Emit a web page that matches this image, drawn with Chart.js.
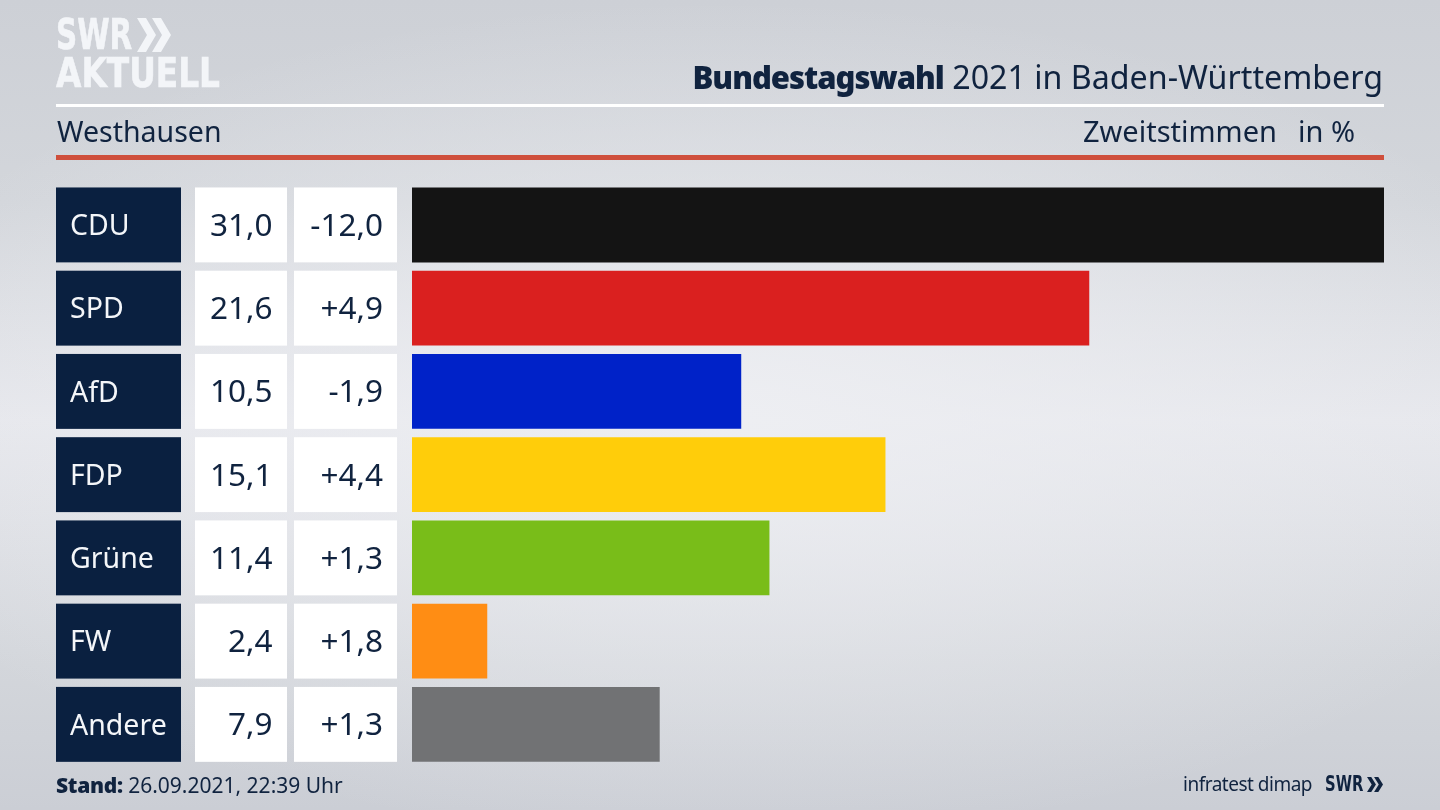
<!DOCTYPE html>
<html lang="de">
<head>
<meta charset="utf-8">
<title>Bundestagswahl 2021 in Baden-Württemberg</title>
<script src="https://cdn.jsdelivr.net/npm/chart.js@4"></script>
<style>
  html, body { margin:0; padding:0; width:1440px; height:810px; overflow:hidden; }
  body {
    position:relative;
    font-family:"Noto Sans", sans-serif;
    color:#10233f;
    background:
      radial-gradient(ellipse 900px 420px at 50% 52%, rgba(238,239,243,.9), rgba(238,239,243,0) 100%),
      linear-gradient(180deg, #cdd0d6 0%, #d3d6db 25%, #e6e7ec 52%, #d3d6db 82%, #cbced5 100%);
  }
  canvas { position:absolute; left:0; top:0; }
  .t { position:absolute; white-space:nowrap; line-height:1; }
  .rule { position:absolute; left:56px; width:1328px; }
  .logo { position:absolute; color:#f3f5f8; font-family:"DejaVu Sans", sans-serif; font-weight:700; white-space:nowrap; line-height:1; transform-origin:left top; -webkit-text-stroke:.6px #f3f5f8; }
</style>
</head>
<body>
<canvas id="chart" width="1440" height="810"></canvas>

<div class="logo" style="left:56px;top:14px;font-size:42px;transform:scaleX(.7);">SWR</div>
<svg style="position:absolute;left:137px;top:18px" width="34" height="34" viewBox="0 0 34 34">
  <path d="M0 0 L9 0 L19 17 L9 34 L0 34 L10 17 Z M15 0 L24 0 L34 17 L24 34 L15 34 L25 17 Z" fill="#f3f5f8"/>
</svg>
<div class="logo" style="left:56px;top:53px;font-size:40px;transform:scaleX(.82);">AKTUELL</div>

<div class="t" id="title" style="right:57px;top:61px;font-size:32.2px;"><b style="font-weight:900;font-size:31px;letter-spacing:-1px">Bundestagswahl</b> 2021 in Baden-Württemberg</div>
<div class="rule" style="top:104px;height:3px;background:#fff"></div>
<div class="t" id="place" style="left:57px;top:117px;font-size:28.5px;">Westhausen</div>
<div class="t" id="kind" style="right:163px;top:116px;font-size:29px;">Zweitstimmen</div>
<div class="t" id="unit" style="right:85px;top:116px;font-size:29px;">in %</div>
<div class="rule" style="top:155px;height:5px;background:#cf4f3c"></div>

<div class="t" style="left:56px;top:775px;font-size:21px;"><b style="font-weight:900;letter-spacing:-0.3px">Stand:</b> 26.09.2021, 22:39 Uhr</div>
<div class="t" style="right:128px;top:775px;font-size:19px;letter-spacing:-0.5px;">infratest dimap</div>
<div class="t" style="left:1325px;top:774px;font-size:20.5px;font-family:'DejaVu Sans',sans-serif;font-weight:700;transform-origin:left top;transform:scaleX(.72);">SWR</div>
<svg style="position:absolute;left:1367px;top:777px" width="16" height="15" viewBox="0 0 34 34" preserveAspectRatio="none">
  <path d="M0 0 L9 0 L19 17 L9 34 L0 34 L10 17 Z M15 0 L24 0 L34 17 L24 34 L15 34 L25 17 Z" fill="#10233f"/>
</svg>

<script>
const parties = ["CDU", "SPD", "AfD", "FDP", "Grüne", "FW", "Andere"];
const shares = [31.0, 21.6, 10.5, 15.1, 11.4, 2.4, 7.9];
const changes = [-12.0, 4.9, -1.9, 4.4, 1.3, 1.8, 1.3];
const barColors = ["#141414", "#da201f", "#0022c8", "#ffcd0a", "#79bd19", "#ff8d14", "#717274"];

function fmt(v){ return v.toFixed(1).replace(".", ","); }
function fmtChange(v){ return (v > 0 ? "+" : "") + fmt(v); }

// table cells left of the bars, rows follow the y scale
const tableCells = {
  id: "tableCells",
  afterDatasetsDraw(chart){
    const { ctx, scales } = chart;
    const bars = chart.getDatasetMeta(0).data;
    ctx.save();
    ctx.textBaseline = "middle";
    parties.forEach((p, i) => {
      const y = scales.y.getPixelForValue(i);
      const h = bars[i].height;
      const top = y - h / 2;
      ctx.fillStyle = "#0a2040";
      ctx.fillRect(56, top, 125, h);
      ctx.fillStyle = "#ffffff";
      ctx.fillRect(195, top, 92, h);
      ctx.fillRect(294, top, 103, h);

      ctx.font = '28.5px "Noto Sans", sans-serif';
      ctx.textAlign = "left";
      ctx.fillStyle = "#f4f6f9";
      ctx.fillText(p, 70, y + 2);
      ctx.font = '31.5px "Noto Sans", sans-serif';
      ctx.textAlign = "right";
      ctx.fillStyle = "#10233f";
      ctx.fillText(fmt(shares[i]), 272.5, y + 2);
      ctx.fillText(fmtChange(changes[i]), 383, y + 2);
    });
    ctx.restore();
  }
};

new Chart(document.getElementById("chart"), {
  type: "bar",
  data: {
    labels: parties,
    datasets: [{ data: shares, backgroundColor: barColors, borderWidth: 0, barPercentage: 0.9, categoryPercentage: 1 }]
  },
  options: {
    indexAxis: "y",
    responsive: false,
    animation: false,
    layout: { padding: { left: 412, right: 56, top: 183.3, bottom: 44 } },
    plugins: { legend: { display: false }, tooltip: { enabled: false } },
    scales: {
      x: { display: false, min: 0, max: 31 },
      y: { display: false }
    }
  },
  plugins: [tableCells]
});
</script>
</body>
</html>
